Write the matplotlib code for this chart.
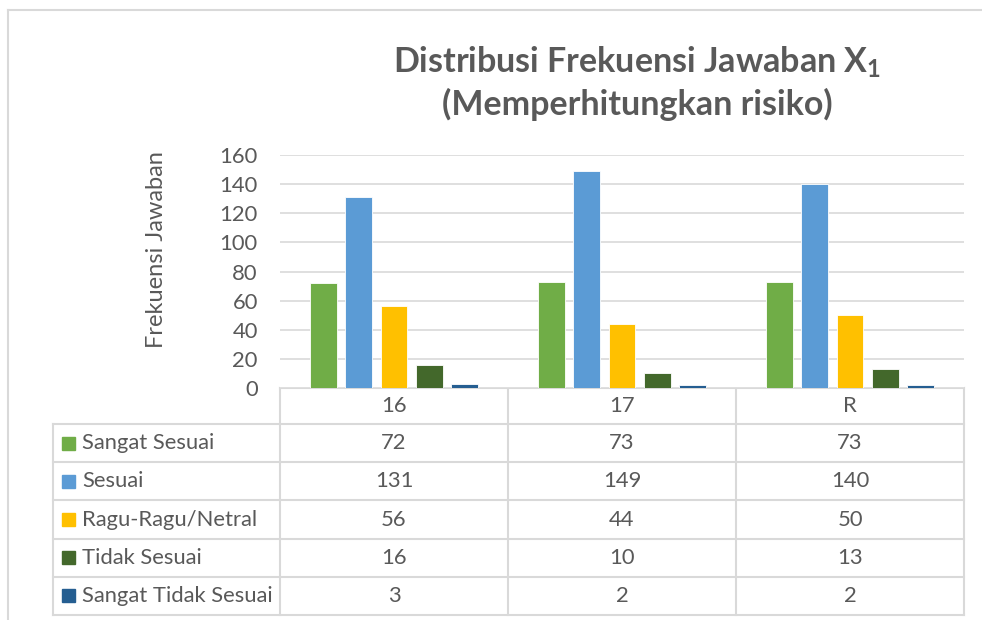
import numpy as np
import matplotlib.pyplot as plt
from matplotlib.patches import Rectangle

# Data
categories = ['16', '17', 'R']
series_names = ['Sangat Sesuai', 'Sesuai', 'Ragu-Ragu/Netral', 'Tidak Sesuai', 'Sangat Tidak Sesuai']
sangat_sesuai = [72, 73, 73]
sesuai = [131, 149, 140]
ragu = [56, 44, 50]
tidak_sesuai = [16, 10, 13]
sangat_tidak = [3, 2, 2]
values = [sangat_sesuai, sesuai, ragu, tidak_sesuai, sangat_tidak]
colors = ['#70ad47', '#5b9bd5', '#ffc000', '#43682b', '#255e91']
yticks = [0, 20, 40, 60, 80, 100, 120, 140, 160]

txt = '#595959'
grid = '#d9d9d9'
plt.rcParams['font.family'] = ['Lato', 'DejaVu Sans']
plt.rcParams['mathtext.fontset'] = 'custom'
plt.rcParams['mathtext.rm'] = 'Lato:bold'
plt.rcParams['mathtext.it'] = 'Lato:bold'

W, H = 982, 620
fig = plt.figure(figsize=(W / 100, H / 100), dpi=100)

# overlay in pixel coordinates for border, table and title
ov = fig.add_axes([0, 0, 1, 1])
ov.set_xlim(0, W)
ov.set_ylim(H, 0)
ov.axis('off')

# chart border (only top and left visible)
ov.plot([8, 982], [10, 10], color=grid, lw=1.5)
ov.plot([8, 8], [10, 620], color=grid, lw=1.5)

# title
ov.text(637, 62, r'Distribusi Frekuensi Jawaban $\mathrm{X_1}$', ha='center', va='center',
        fontsize=24.5, fontweight='bold', color=txt)
ov.text(637, 104, '(Memperhitungkan risiko)', ha='center', va='center',
        fontsize=24.5, fontweight='bold', color=txt)

# y label
ov.text(157, 250, 'Frekuensi Jawaban', rotation=90, ha='center', va='center',
        fontsize=17, color=txt)

# bar plot
x0, x1, ytop, ybot = 280, 964, 155, 388
ax = fig.add_axes([x0 / W, 1 - ybot / H, (x1 - x0) / W, (ybot - ytop) / H])
n = len(categories)
x = np.arange(n)
step = 0.154
bw = 0.118
for i, (vals, c) in enumerate(zip(values, colors)):
    ax.bar(x + (i - 2) * step, vals, width=bw, color=c, edgecolor='white', linewidth=0.6, zorder=3)
ax.set_xlim(-0.5, n - 0.5)
ax.set_ylim(0, 160)
ax.set_yticks(yticks)
ax.set_xticks([])
ax.yaxis.grid(True, color=grid, lw=1.2)
ax.set_axisbelow(True)
for s in ax.spines.values():
    s.set_visible(False)
ax.tick_params(axis='y', length=0, labelsize=15.8, labelcolor=txt, pad=16)

# data table
col_x = [53, 280, 508, 736, 964]
head_top, head_bot = 388, 424
row_y = np.linspace(head_bot, 615, len(series_names) + 1)
lw = 1.5
fs = 15.8
# header row
ov.plot([col_x[1], col_x[-1]], [head_top, head_top], color=grid, lw=lw)
for cx in col_x[1:]:
    ov.plot([cx, cx], [head_top, row_y[-1]], color=grid, lw=lw)
ov.plot([col_x[0], col_x[0]], [row_y[0], row_y[-1]], color=grid, lw=lw)
for ry in row_y:
    ov.plot([col_x[0], col_x[-1]], [ry, ry], color=grid, lw=lw)
for j, cat in enumerate(categories):
    cx = (col_x[j + 1] + col_x[j + 2]) / 2
    ov.text(cx, (head_top + head_bot) / 2, cat, ha='center', va='center', fontsize=fs, color=txt)
for i, (name, vals, c) in enumerate(zip(series_names, values, colors)):
    cy = (row_y[i] + row_y[i + 1]) / 2
    ov.add_patch(Rectangle((62, cy - 6.5), 13, 13, color=c))
    ov.text(82, cy, name, ha='left', va='center', fontsize=fs, color=txt)
    for j, v in enumerate(vals):
        cx = (col_x[j + 1] + col_x[j + 2]) / 2
        ov.text(cx, cy, str(v), ha='center', va='center', fontsize=fs, color=txt)

fig.savefig('out.png', dpi=100)
